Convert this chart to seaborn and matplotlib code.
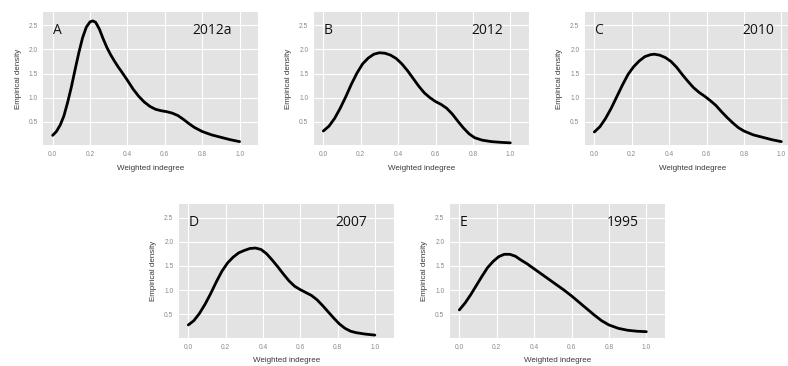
import pandas as pd
import matplotlib
matplotlib.use('Agg')
import matplotlib.pyplot as plt
import seaborn as sns

# Panel metadata
panel_letters = ['A', 'B', 'C', 'D', 'E']
panel_years = ['2012a', '2012', '2010', '2007', '1995']

# Density curves (weighted indegree vs. empirical density)
x_a = [0.0, 0.02, 0.04, 0.06, 0.08, 0.10, 0.12, 0.14, 0.16, 0.18, 0.20, 0.215, 0.23, 0.25, 0.27, 0.29, 0.31, 0.33, 0.35, 0.37,
       0.40, 0.43, 0.46, 0.49, 0.52, 0.55, 0.58, 0.61, 0.64, 0.67, 0.70, 0.73, 0.76, 0.80, 0.85, 0.90, 0.95, 1.0]
y_a = [0.22, 0.30, 0.43, 0.62, 0.90, 1.22, 1.58, 1.93, 2.24, 2.46, 2.57, 2.59, 2.56, 2.42, 2.22, 2.04, 1.89, 1.76, 1.64, 1.53,
       1.36, 1.18, 1.03, 0.91, 0.82, 0.76, 0.73, 0.71, 0.68, 0.63, 0.55, 0.46, 0.38, 0.30, 0.23, 0.18, 0.13, 0.09]

x_b = [0.0, 0.03, 0.06, 0.09, 0.12, 0.15, 0.18, 0.21, 0.24, 0.27, 0.30, 0.33, 0.36, 0.39, 0.42, 0.45, 0.48, 0.51,
       0.54, 0.57, 0.60, 0.63, 0.66, 0.69, 0.72, 0.75, 0.78, 0.81, 0.85, 0.90, 0.95, 1.0]
y_b = [0.31, 0.41, 0.57, 0.78, 1.02, 1.28, 1.51, 1.70, 1.82, 1.90, 1.93, 1.92, 1.88, 1.81, 1.70, 1.56, 1.40, 1.24,
       1.10, 1.00, 0.92, 0.86, 0.78, 0.66, 0.51, 0.37, 0.25, 0.17, 0.12, 0.09, 0.075, 0.065]

x_c = [0.0, 0.03, 0.06, 0.09, 0.12, 0.15, 0.18, 0.21, 0.24, 0.27, 0.30, 0.32, 0.35, 0.38, 0.41, 0.44, 0.47, 0.50,
       0.53, 0.56, 0.59, 0.62, 0.65, 0.68, 0.71, 0.74, 0.77, 0.80, 0.85, 0.90, 0.95, 1.0]
y_c = [0.29, 0.40, 0.57, 0.78, 1.02, 1.26, 1.48, 1.64, 1.76, 1.85, 1.89, 1.90, 1.88, 1.83, 1.75, 1.63, 1.48, 1.34,
       1.21, 1.11, 1.03, 0.94, 0.84, 0.71, 0.59, 0.48, 0.38, 0.31, 0.23, 0.18, 0.13, 0.09]

x_d = [0.0, 0.03, 0.06, 0.09, 0.12, 0.15, 0.18, 0.21, 0.24, 0.27, 0.30, 0.33, 0.36, 0.39, 0.42, 0.45, 0.48, 0.51,
       0.54, 0.57, 0.60, 0.63, 0.66, 0.69, 0.72, 0.75, 0.78, 0.81, 0.84, 0.87, 0.90, 0.95, 1.0]
y_d = [0.28, 0.37, 0.52, 0.71, 0.93, 1.17, 1.39, 1.56, 1.68, 1.77, 1.82, 1.86, 1.87, 1.84, 1.75, 1.62, 1.48, 1.33,
       1.19, 1.08, 1.01, 0.95, 0.89, 0.80, 0.68, 0.55, 0.42, 0.30, 0.21, 0.15, 0.12, 0.09, 0.07]

x_e = [0.0, 0.03, 0.06, 0.09, 0.12, 0.15, 0.18, 0.21, 0.24, 0.27, 0.30, 0.33, 0.36, 0.40, 0.44, 0.48, 0.52, 0.56,
       0.60, 0.64, 0.68, 0.72, 0.76, 0.80, 0.85, 0.90, 0.95, 1.0]
y_e = [0.59, 0.73, 0.90, 1.09, 1.28, 1.46, 1.59, 1.69, 1.74, 1.74, 1.70, 1.62, 1.55, 1.44, 1.33, 1.22, 1.11, 1.00,
       0.88, 0.75, 0.62, 0.49, 0.37, 0.28, 0.21, 0.17, 0.15, 0.14]

curves = [(x_a, y_a), (x_b, y_b), (x_c, y_c), (x_d, y_d), (x_e, y_e)]

x_ticks = [0.0, 0.2, 0.4, 0.6, 0.8, 1.0]
y_ticks = [0.5, 1.0, 1.5, 2.0, 2.5]

sns.set_style('darkgrid', {'axes.facecolor': '#E3E3E3', 'grid.color': 'white'})
plt.rcParams['font.family'] = ['Liberation Sans', 'DejaVu Sans']

W, H = 788, 366
fig = plt.figure(figsize=(W / 100, H / 100), dpi=100)

# axes boxes in pixels: left, top, right, bottom (panel C runs off the right edge)
boxes = [(43.3, 11.7, 258.3, 145.5),
         (314, 11.7, 529, 145.5),
         (585, 11.7, 800, 145.5),
         (179, 204, 393.5, 338),
         (450, 204, 665, 338)]

for (l, t, r, b), (xs, ys), letter, year in zip(boxes, curves, panel_letters, panel_years):
    ax = fig.add_axes([l / W, 1 - b / H, (r - l) / W, (b - t) / H])
    df = pd.DataFrame({'x': xs, 'y': ys})
    sns.lineplot(data=df, x='x', y='y', ax=ax, color='black', linewidth=2.0,
                 solid_joinstyle='round', solid_capstyle='round')
    ax.set_xlim(-0.05, 1.10)
    ax.set_ylim(0.01, 2.78)
    ax.set_xticks(x_ticks)
    ax.set_yticks(y_ticks)
    ax.set_xticklabels([f'{v:.1f}' for v in x_ticks])
    ax.set_yticklabels([f'{v:.1f}' for v in y_ticks])
    ax.tick_params(length=0, labelsize=4.8, labelcolor='#8A8A8A', pad=4)
    ax.grid(True, color='white', linewidth=0.8)
    for s in ax.spines.values():
        s.set_visible(False)
    ax.set_xlabel('Weighted indegree', fontsize=5.8, color='#3A3A3A', labelpad=5)
    ax.set_ylabel('Empirical density', fontsize=5.8, color='#3A3A3A', labelpad=5)
    ax.text(0.0, 2.40, letter, fontsize=10, family=['Open Sans', 'DejaVu Sans'],
            ha='left', va='center', color='#111111')
    ax.text(0.96, 2.40, year, fontsize=10, family=['Open Sans', 'DejaVu Sans'],
            ha='right', va='center', color='#111111')

fig.savefig('out.png', dpi=100)
